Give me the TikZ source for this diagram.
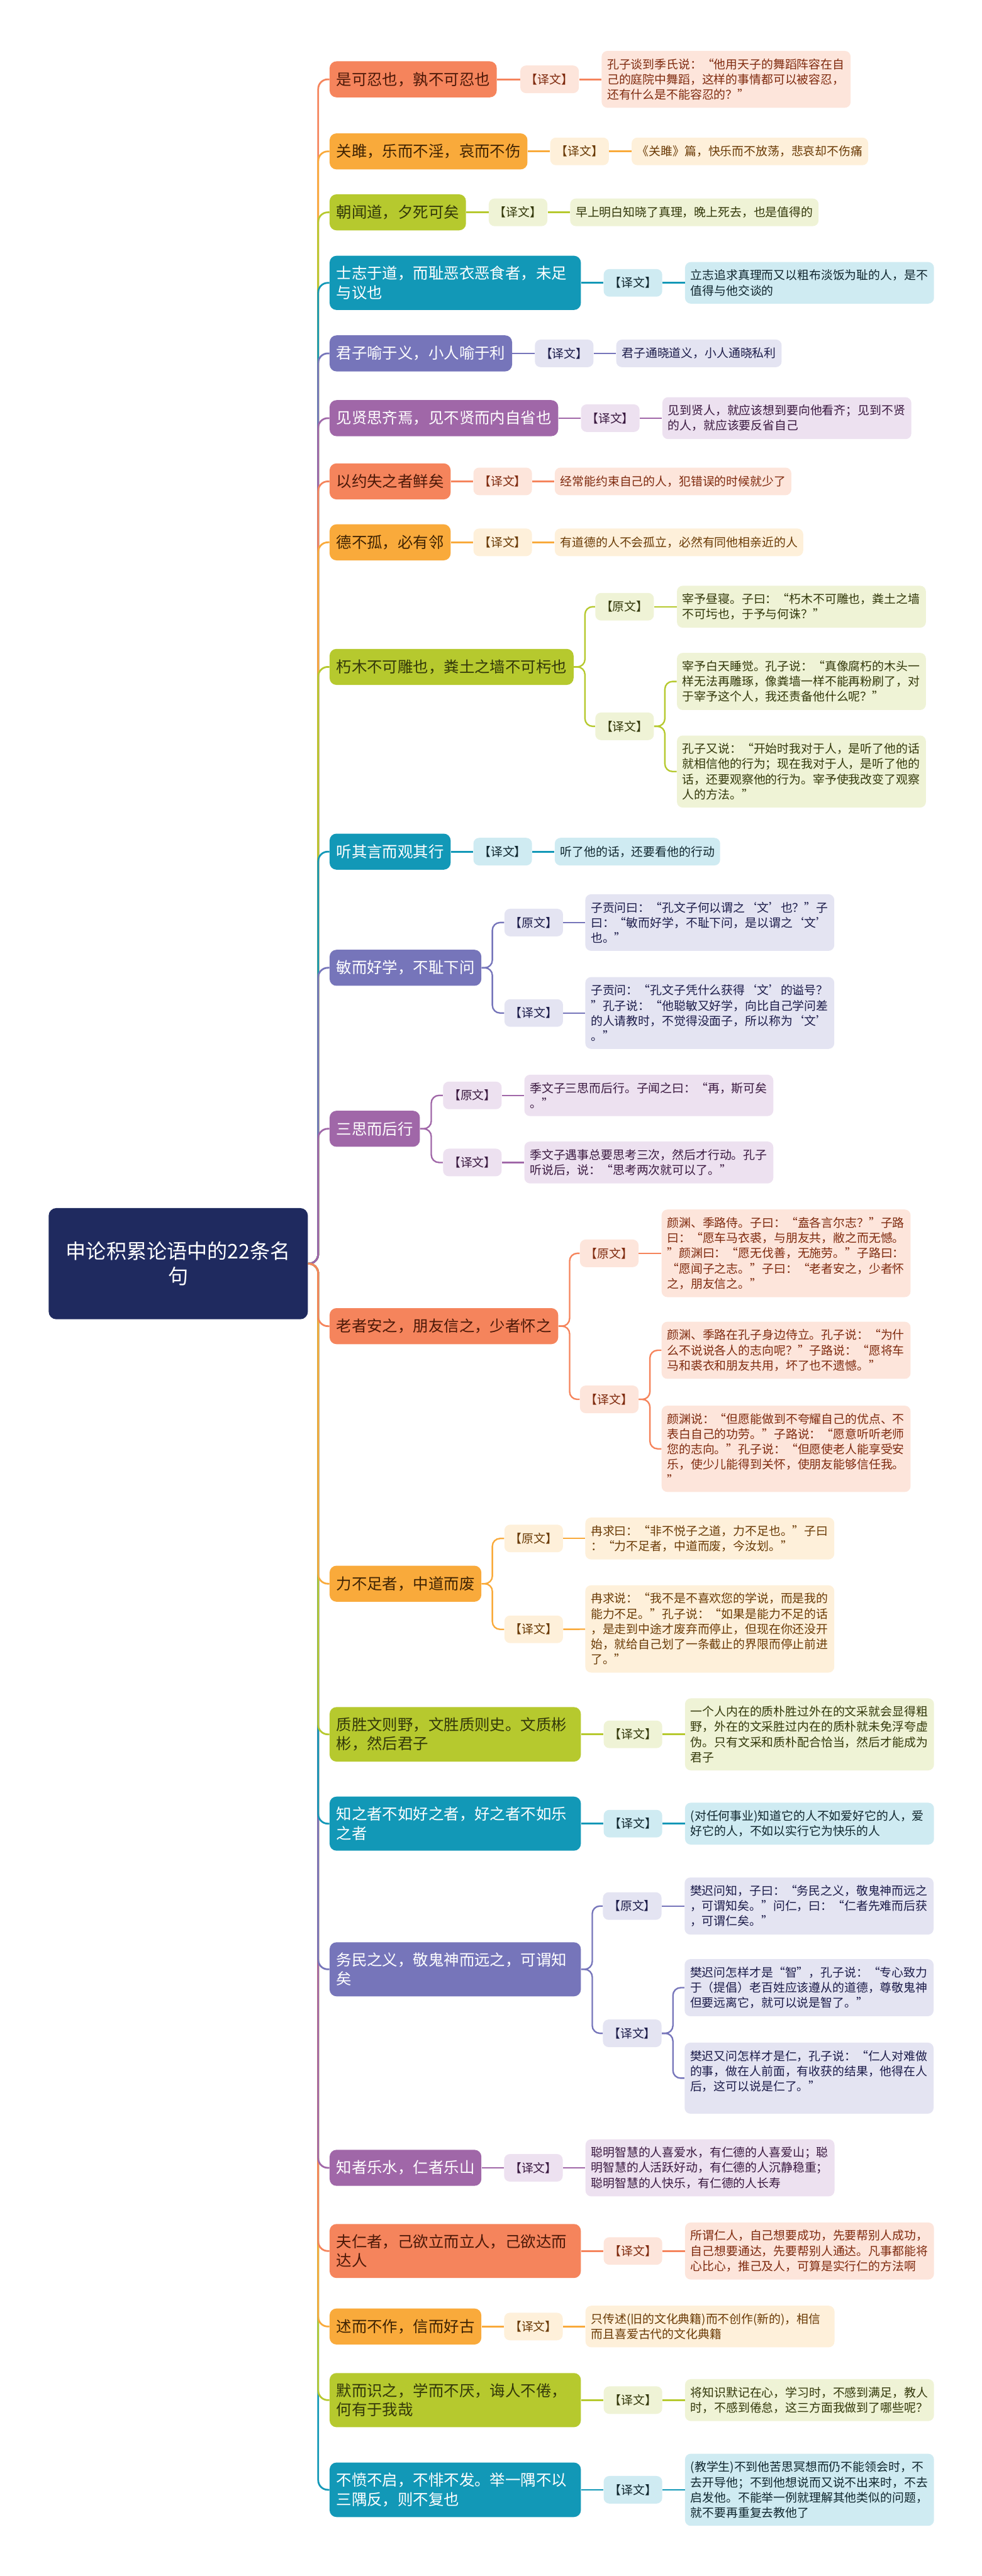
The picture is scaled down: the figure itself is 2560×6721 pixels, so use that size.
\documentclass[tikz,border=0pt]{standalone}
\usepackage{fontspec}
\setmainfont{Noto Sans CJK SC}
\usepackage{tikz}
\usetikzlibrary{positioning}
\definecolor{mapnavy}{HTML}{1F2A5F}
\definecolor{mapcoral}{HTML}{F5845C}
\definecolor{coralpale}{HTML}{FDE5DB}
\definecolor{coralink}{HTML}{7F2A0E}
\definecolor{maporange}{HTML}{F9AA3B}
\definecolor{orangepale}{HTML}{FEF0DA}
\definecolor{orangeink}{HTML}{6A3A05}
\definecolor{mapgreen}{HTML}{B6C92E}
\definecolor{greenpale}{HTML}{EFF3D6}
\definecolor{greenink}{HTML}{33380A}
\definecolor{mapteal}{HTML}{1298B7}
\definecolor{tealpale}{HTML}{CFEBF2}
\definecolor{tealink}{HTML}{10262E}
\definecolor{mapindigo}{HTML}{7675BA}
\definecolor{indigopale}{HTML}{E4E4F2}
\definecolor{indigoink}{HTML}{1C1C4A}
\definecolor{mappurple}{HTML}{A067A8}
\definecolor{purplepale}{HTML}{EDE1F0}
\definecolor{purpleink}{HTML}{3A1940}

\begin{document}
\begin{tikzpicture}[x=0.01cm,y=-0.01cm,
  root/.style={fill=mapnavy,text=white,rounded corners=0.2cm,align=center,inner xsep=0.45cm,inner ysep=0.3cm,minimum width=6.73cm,minimum height=2.9cm,font=\fontsize{15pt}{19pt}\selectfont},
  br/.style={anchor=west,rounded corners=0.18cm,inner xsep=0.175cm,inner ysep=0.27cm,minimum height=0.94cm,align=left,font=\fontsize{11.4pt}{14.2pt}\selectfont},
  brw/.style={br,text width=6.2cm},
  tag/.style={anchor=west,rounded corners=0.15cm,inner xsep=0.145cm,inner ysep=0.2cm,minimum height=0.72cm,align=left,font=\fontsize{8.8pt}{11.3pt}\selectfont},
  leafw/.style={tag,text width=6.2cm},
  link/.style={line width=1.3pt,rounded corners=0.25cm},
  sublink/.style={line width=1.1pt,rounded corners=0.2cm},
  coral/.style={fill=mapcoral,text=coralink!60!black},
  coralL/.style={fill=coralpale,text=coralink},
  orange/.style={fill=maporange,text=orangeink!60!black},
  orangeL/.style={fill=orangepale,text=orangeink},
  green/.style={fill=mapgreen,text=greenink},
  greenL/.style={fill=greenpale,text=greenink},
  teal/.style={fill=mapteal,text=white},
  tealL/.style={fill=tealpale,text=tealink},
  indigo/.style={fill=mapindigo,text=white},
  indigoL/.style={fill=indigopale,text=indigoink},
  purple/.style={fill=mappurple,text=white},
  purpleL/.style={fill=purplepale,text=purpleink}]
\useasboundingbox (0,0) rectangle (2560,6721);

% root and trunk
\node[root] (root) at (465,3297) {申论积累论语中的22条名\\句};
\coordinate (trunk) at (830,3297);

% branches
\node[br,coral] (b1) at (859,207) {是可忍也，孰不可忍也};
\node[br,orange] (b2) at (859,395) {关雎，乐而不淫，哀而不伤};
\node[br,green] (b3) at (859,554) {朝闻道，夕死可矣};
\node[brw,teal] (b4) at (859,738) {士志于道，而耻恶衣恶食者，未足\\与议也};
\node[br,indigo] (b5) at (859,922) {君子喻于义，小人喻于利};
\node[br,purple] (b6) at (859,1091) {见贤思齐焉，见不贤而内自省也};
\node[br,coral] (b7) at (859,1256) {以约失之者鲜矣};
\node[br,orange] (b8) at (859,1415) {德不孤，必有邻};
\node[br,green] (b9) at (859,1740) {朽木不可雕也，粪土之墙不可杇也};
\node[br,teal] (b10) at (859,2222) {听其言而观其行};
\node[br,indigo] (b11) at (859,2525) {敏而好学，不耻下问};
\node[br,purple] (b12) at (859,2945) {三思而后行};
\node[br,coral] (b13) at (859,3460) {老者安之，朋友信之，少者怀之};
\node[br,orange] (b14) at (859,4132) {力不足者，中道而废};
\node[brw,green] (b15) at (859,4525) {质胜文则野，文胜质则史。文质彬\\彬，然后君子};
\node[brw,teal] (b16) at (859,4758) {知之者不如好之者，好之者不如乐\\之者};
\node[brw,indigo] (b17) at (859,5138) {务民之义，敬鬼神而远之，可谓知\\矣};
\node[br,purple] (b18) at (859,5656) {知者乐水，仁者乐山};
\node[brw,coral] (b19) at (859,5873) {夫仁者，己欲立而立人，己欲达而\\达人};
\node[br,orange] (b20) at (859,6070) {述而不作，信而好古};
\node[brw,green] (b21) at (859,6262) {默而识之，学而不厌，诲人不倦，\\何有于我哉};
\node[brw,teal] (b22) at (859,6496) {不愤不启，不悱不发。举一隅不以\\三隅反，则不复也};

% root links, far ones first
\draw[link,mapcoral] (root.east) -- (trunk) |- (b1.west);
\draw[link,maporange] (root.east) -- (trunk) |- (b2.west);
\draw[link,mapgreen] (root.east) -- (trunk) |- (b3.west);
\draw[link,mapteal] (root.east) -- (trunk) |- (b4.west);
\draw[link,mapindigo] (root.east) -- (trunk) |- (b5.west);
\draw[link,mappurple] (root.east) -- (trunk) |- (b6.west);
\draw[link,mapcoral] (root.east) -- (trunk) |- (b7.west);
\draw[link,maporange] (root.east) -- (trunk) |- (b8.west);
\draw[link,mapgreen] (root.east) -- (trunk) |- (b9.west);
\draw[link,mapteal] (root.east) -- (trunk) |- (b10.west);
\draw[link,mapindigo] (root.east) -- (trunk) |- (b11.west);
\draw[link,mappurple] (root.east) -- (trunk) |- (b12.west);
\draw[link,mapteal] (root.east) -- (trunk) |- (b22.west);
\draw[link,mapgreen] (root.east) -- (trunk) |- (b21.west);
\draw[link,maporange] (root.east) -- (trunk) |- (b20.west);
\draw[link,mapcoral] (root.east) -- (trunk) |- (b19.west);
\draw[link,mappurple] (root.east) -- (trunk) |- (b18.west);
\draw[link,mapindigo] (root.east) -- (trunk) |- (b17.west);
\draw[link,mapteal] (root.east) -- (trunk) |- (b16.west);
\draw[link,mapgreen] (root.east) -- (trunk) |- (b15.west);
\draw[link,maporange] (root.east) -- (trunk) |- (b14.west);
\draw[link,mapcoral] (root.east) -- (trunk) |- (b13.west);

% one note per branch
\node[tag,coralL,right=0.6cm of b1] (t1) {【译文】};
\node[leafw,coralL,right=0.58cm of t1] (p1) {孔子谈到季氏说：“他用天子的舞蹈阵容在自\\己的庭院中舞蹈，这样的事情都可以被容忍，\\还有什么是不能容忍的？”};
\node[tag,orangeL,right=0.58cm of b2] (t2) {【译文】};
\node[tag,orangeL,right=0.58cm of t2] (p2) {《关雎》篇，快乐而不放荡，悲哀却不伤痛};
\node[tag,greenL,right=0.58cm of b3] (t3) {【译文】};
\node[tag,greenL,right=0.58cm of t3] (p3) {早上明白知晓了真理，晚上死去，也是值得的};
\node[tag,tealL,right=0.58cm of b4] (t4) {【译文】};
\node[leafw,tealL,right=0.58cm of t4] (p4) {立志追求真理而又以粗布淡饭为耻的人，是不\\值得与他交谈的};
\node[tag,indigoL,right=0.58cm of b5] (t5) {【译文】};
\node[tag,indigoL,right=0.58cm of t5] (p5) {君子通晓道义，小人通晓私利};
\node[tag,purpleL,right=0.58cm of b6] (t6) {【译文】};
\node[leafw,purpleL,right=0.58cm of t6] (p6) {见到贤人，就应该想到要向他看齐；见到不贤\\的人，就应该要反省自己};
\node[tag,coralL,right=0.58cm of b7] (t7) {【译文】};
\node[tag,coralL,right=0.58cm of t7] (p7) {经常能约束自己的人，犯错误的时候就少了};
\node[tag,orangeL,right=0.58cm of b8] (t8) {【译文】};
\node[tag,orangeL,right=0.58cm of t8] (p8) {有道德的人不会孤立，必然有同他相亲近的人};
\node[tag,tealL,right=0.58cm of b10] (t10) {【译文】};
\node[tag,tealL,right=0.58cm of t10] (p10) {听了他的话，还要看他的行动};
\node[tag,greenL,right=0.58cm of b15] (t15) {【译文】};
\node[leafw,greenL,right=0.58cm of t15] (p15) {一个人内在的质朴胜过外在的文采就会显得粗\\野，外在的文采胜过内在的质朴就未免浮夸虚\\伪。只有文采和质朴配合恰当，然后才能成为\\君子};
\node[tag,tealL,right=0.58cm of b16] (t16) {【译文】};
\node[leafw,tealL,right=0.58cm of t16] (p16) {(对任何事业)知道它的人不如爱好它的人，爱\\好它的人，不如以实行它为快乐的人};
\node[tag,purpleL,right=0.58cm of b18] (t18) {【译文】};
\node[leafw,purpleL,right=0.58cm of t18] (p18) {聪明智慧的人喜爱水，有仁德的人喜爱山；聪\\明智慧的人活跃好动，有仁德的人沉静稳重；\\聪明智慧的人快乐，有仁德的人长寿};
\node[tag,coralL,right=0.58cm of b19] (t19) {【译文】};
\node[leafw,coralL,right=0.58cm of t19] (p19) {所谓仁人，自己想要成功，先要帮别人成功，\\自己想要通达，先要帮别人通达。凡事都能将\\心比心，推己及人，可算是实行仁的方法啊};
\node[tag,orangeL,right=0.58cm of b20] (t20) {【译文】};
\node[leafw,orangeL,right=0.58cm of t20] (p20) {只传述(旧的文化典籍)而不创作(新的)，相信\\而且喜爱古代的文化典籍};
\node[tag,greenL,right=0.58cm of b21] (t21) {【译文】};
\node[leafw,greenL,right=0.58cm of t21] (p21) {将知识默记在心，学习时，不感到满足，教人\\时，不感到倦怠，这三方面我做到了哪些呢？};
\node[tag,tealL,right=0.58cm of b22] (t22) {【译文】};
\node[leafw,tealL,right=0.58cm of t22] (p22) {(教学生)不到他苦思冥想而仍不能领会时，不\\去开导他；不到他想说而又说不出来时，不去\\启发他。不能举一例就理解其他类似的问题，\\就不要再重复去教他了};

\draw[link,mapcoral] (b1) -- (t1) -- (p1);
\draw[link,maporange] (b2) -- (t2) -- (p2);
\draw[link,mapgreen] (b3) -- (t3) -- (p3);
\draw[link,mapteal] (b4) -- (t4) -- (p4);
\draw[link,mapindigo] (b5) -- (t5) -- (p5);
\draw[link,mappurple] (b6) -- (t6) -- (p6);
\draw[link,mapcoral] (b7) -- (t7) -- (p7);
\draw[link,maporange] (b8) -- (t8) -- (p8);
\draw[link,mapteal] (b10) -- (t10) -- (p10);
\draw[link,mapgreen] (b15) -- (t15) -- (p15);
\draw[link,mapteal] (b16) -- (t16) -- (p16);
\draw[link,mappurple] (b18) -- (t18) -- (p18);
\draw[link,mapcoral] (b19) -- (t19) -- (p19);
\draw[link,maporange] (b20) -- (t20) -- (p20);
\draw[link,mapgreen] (b21) -- (t21) -- (p21);
\draw[link,mapteal] (b22) -- (t22) -- (p22);

% 朽木不可雕也
\node[tag,greenL] (t9a) at (1552,1583) {【原文】};
\node[leafw,greenL] (p9a) at (1765,1583) {宰予昼寝。子曰：“朽木不可雕也，粪土之墙\\不可圬也，于予与何诛？”};
\node[tag,greenL] (t9b) at (1552,1895) {【译文】};
\node[leafw,greenL] (p9b) at (1765,1778) {宰予白天睡觉。孔子说：“真像腐朽的木头一\\样无法再雕琢，像粪墙一样不能再粉刷了，对\\于宰予这个人，我还责备他什么呢？”};
\node[leafw,greenL] (p9c) at (1765,2013) {孔子又说：“开始时我对于人，是听了他的话\\就相信他的行为；现在我对于人，是听了他的\\话，还要观察他的行为。宰予使我改变了观察\\人的方法。”};
\draw[sublink,mapgreen] (b9.east) -- ++(29,0) |- (t9a.west);
\draw[sublink,mapgreen] (b9.east) -- ++(29,0) |- (t9b.west);
\draw[sublink,mapgreen] (t9a) -- (p9a);
\draw[sublink,mapgreen] (t9b.east) -- ++(28,0) |- (p9b.west);
\draw[sublink,mapgreen] (t9b.east) -- ++(28,0) |- (p9c.west);

% 敏而好学
\node[tag,indigoL] (t11a) at (1315,2407) {【原文】};
\node[leafw,indigoL] (p11a) at (1526,2407) {子贡问曰：“孔文子何以谓之‘文’也？”子\\曰：“敏而好学，不耻下问，是以谓之‘文’\\也。”};
\node[tag,indigoL] (t11b) at (1315,2643) {【译文】};
\node[leafw,indigoL] (p11b) at (1526,2643) {子贡问：“孔文子凭什么获得‘文’的谥号？\\”孔子说：“他聪敏又好学，向比自己学问差\\的人请教时，不觉得没面子，所以称为‘文’\\。”};
\draw[sublink,mapindigo] (b11.east) -- ++(28,0) |- (t11a.west);
\draw[sublink,mapindigo] (b11.east) -- ++(28,0) |- (t11b.west);
\draw[sublink,mapindigo] (t11a) -- (p11a);
\draw[sublink,mapindigo] (t11b) -- (p11b);

% 三思而后行
\node[tag,purpleL] (t12a) at (1155,2858) {【原文】};
\node[leafw,purpleL] (p12a) at (1367,2858) {季文子三思而后行。子闻之曰：“再，斯可矣\\。”};
\node[tag,purpleL] (t12b) at (1155,3033) {【译文】};
\node[leafw,purpleL] (p12b) at (1367,3033) {季文子遇事总要思考三次，然后才行动。孔子\\听说后，说：“思考两次就可以了。”};
\draw[sublink,mappurple] (b12.east) -- ++(29,0) |- (t12a.west);
\draw[sublink,mappurple] (b12.east) -- ++(29,0) |- (t12b.west);
\draw[sublink,mappurple] (t12a) -- (p12a);
\draw[sublink,mappurple] (t12b) -- (p12b);

% 老者安之
\node[tag,coralL] (t13a) at (1512,3270) {【原文】};
\node[leafw,coralL] (p13a) at (1725,3270) {颜渊、季路侍。子曰：“盍各言尔志？”子路\\曰：“愿车马衣裘，与朋友共，敝之而无憾。\\”颜渊曰：“愿无伐善，无施劳。”子路曰：\\“愿闻子之志。”子曰：“老者安之，少者怀\\之，朋友信之。”};
\node[tag,coralL] (t13b) at (1512,3651) {【译文】};
\node[leafw,coralL] (p13b) at (1725,3523) {颜渊、季路在孔子身边侍立。孔子说：“为什\\么不说说各人的志向呢？”子路说：“愿将车\\马和裘衣和朋友共用，坏了也不遗憾。”};
\node[leafw,coralL] (p13c) at (1725,3780) {颜渊说：“但愿能做到不夸耀自己的优点、不\\表白自己的功劳。”子路说：“愿意听听老师\\您的志向。”孔子说：“但愿使老人能享受安\\乐，使少儿能得到关怀，使朋友能够信任我。\\”};
\draw[sublink,mapcoral] (b13.east) -- ++(29,0) |- (t13a.west);
\draw[sublink,mapcoral] (b13.east) -- ++(29,0) |- (t13b.west);
\draw[sublink,mapcoral] (t13a) -- (p13a);
\draw[sublink,mapcoral] (t13b.east) -- ++(29,0) |- (p13b.west);
\draw[sublink,mapcoral] (t13b.east) -- ++(29,0) |- (p13c.west);

% 力不足者
\node[tag,orangeL] (t14a) at (1315,4014) {【原文】};
\node[leafw,orangeL] (p14a) at (1526,4014) {冉求曰：“非不悦子之道，力不足也。”子曰\\：“力不足者，中道而废，今汝划。”};
\node[tag,orangeL] (t14b) at (1315,4251) {【译文】};
\node[leafw,orangeL] (p14b) at (1526,4250) {冉求说：“我不是不喜欢您的学说，而是我的\\能力不足。”孔子说：“如果是能力不足的话\\，是走到中途才废弃而停止，但现在你还没开\\始，就给自己划了一条截止的界限而停止前进\\了。”};
\draw[sublink,maporange] (b14.east) -- ++(28,0) |- (t14a.west);
\draw[sublink,maporange] (b14.east) -- ++(28,0) |- (t14b.west);
\draw[sublink,maporange] (t14a) -- (p14a);
\draw[sublink,maporange] (t14b) -- (p14b);

% 务民之义
\node[tag,indigoL] (t17a) at (1572,4973) {【原文】};
\node[leafw,indigoL] (p17a) at (1785,4973) {樊迟问知，子曰：“务民之义，敬鬼神而远之\\，可谓知矣。”问仁，曰：“仁者先难而后获\\，可谓仁矣。”};
\node[tag,indigoL] (t17b) at (1572,5305) {【译文】};
\node[leafw,indigoL] (p17b) at (1785,5186) {樊迟问怎样才是“智”，孔子说：“专心致力\\于（提倡）老百姓应该遵从的道德，尊敬鬼神\\但要远离它，就可以说是智了。”};
\node[leafw,indigoL] (p17c) at (1785,5422) {樊迟又问怎样才是仁，孔子说：“仁人对难做\\的事，做在人前面，有收获的结果，他得在人\\后，这可以说是仁了。”\\\mbox{}};
\draw[sublink,mapindigo] (b17.east) -- ++(29,0) |- (t17a.west);
\draw[sublink,mapindigo] (b17.east) -- ++(29,0) |- (t17b.west);
\draw[sublink,mapindigo] (t17a) -- (p17a);
\draw[sublink,mapindigo] (t17b.east) -- ++(29,0) |- (p17b.west);
\draw[sublink,mapindigo] (t17b.east) -- ++(29,0) |- (p17c.west);
\end{tikzpicture}
\end{document}
